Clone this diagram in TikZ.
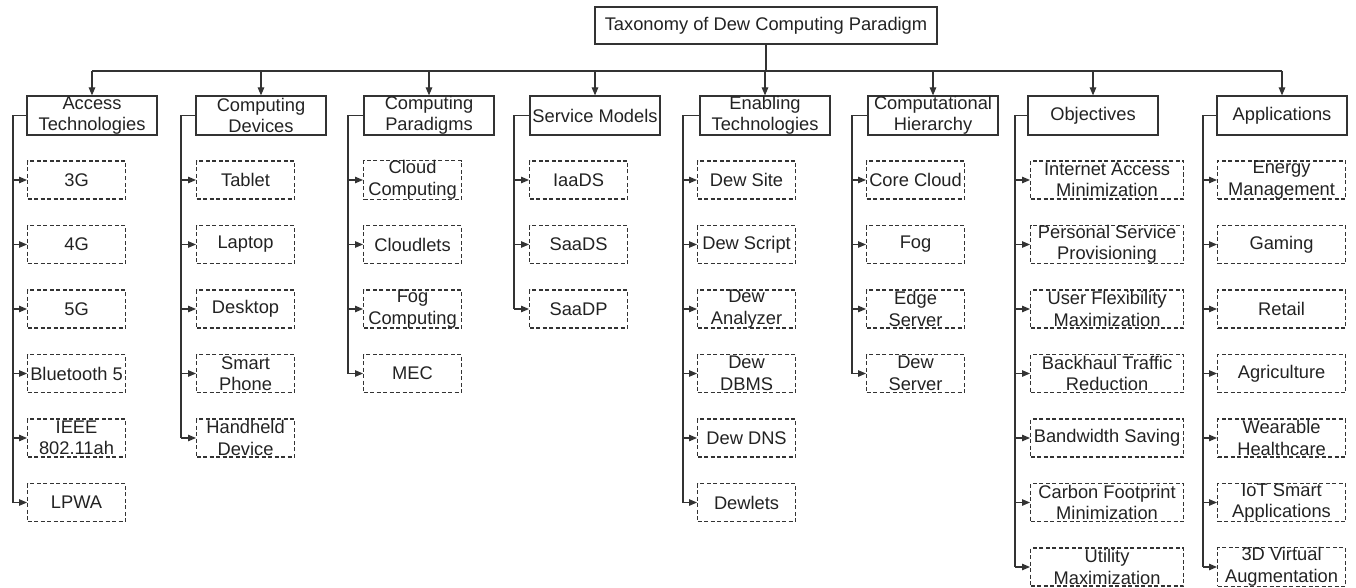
\documentclass[tikz,border=0pt]{standalone}
\usepackage{fontspec}
\setmainfont{Liberation Sans}
\usetikzlibrary{arrows.meta}
\definecolor{ln}{HTML}{333333}
\definecolor{tx}{HTML}{222222}
\begin{document}
\begin{tikzpicture}[x=1pt,y=-1pt,
  every node/.style={font=\fontsize{18.3}{21.5}\selectfont, text=tx, inner sep=0pt, align=center},
  rootbox/.style={draw=ln, line width=1.2pt, minimum width=342pt, minimum height=37pt},
  parentbox/.style={draw=ln, line width=1.2pt, minimum width=130pt, minimum height=39pt},
  childbox/.style={draw=ln, line width=1.1pt, dash pattern=on 4pt off 2.5pt, minimum height=38pt},
  link/.style={draw=ln, line width=1.2pt},
  arr/.style={link, -{Triangle[length=8pt,width=6.5pt]}}]
\useasboundingbox (0,0) rectangle (1356,588);
\node[rootbox] (root) at (766,25.5) {Taxonomy of Dew Computing Paradigm};
\coordinate (bar) at (0,71);
\foreach \col/\pc/\cl/\cw/\tx/\n/\ptext/\kids in {
  1/92/27/98/13/6/{Access\\Technologies}/{3G,4G,5G,Bluetooth 5,{IEEE\\802.11ah},LPWA},
  2/261/196/98/181/5/{Computing\\Devices}/{Tablet,Laptop,Desktop,{Smart\\Phone},{Handheld\\Device}},
  3/429/363/98/348/4/{Computing\\Paradigms}/{{Cloud\\Computing},Cloudlets,{Fog\\Computing},MEC},
  4/595/529/98/514/3/{Service Models}/{IaaDS,SaaDS,SaaDP},
  5/765/697/98/683/6/{Enabling\\Technologies}/{Dew Site,Dew Script,{Dew\\Analyzer},{Dew\\DBMS},Dew DNS,Dewlets},
  6/933/866/98/852/4/{Computational\\Hierarchy}/{Core Cloud,Fog,{Edge\\Server},{Dew\\Server}},
  7/1093/1030/153/1015/7/{Objectives}/{{Internet Access\\Minimization},{Personal Service\\Provisioning},{User Flexibility\\Maximization},{Backhaul Traffic\\Reduction},Bandwidth Saving,{Carbon Footprint\\Minimization},{Utility\\Maximization}},
  8/1282/1217/128/1203/7/{Applications}/{{Energy\\Management},Gaming,Retail,Agriculture,{Wearable\\Healthcare},{IoT Smart\\Applications},{3D Virtual\\Augmentation}}}
{
  \node[parentbox] (p\col) at (\pc,115.5) {\ptext};
  \foreach \k [count=\i] in \kids {
    \pgfmathsetmacro\cy{180+64.5*(\i-1)}
    \node[childbox, minimum width=\cw pt, anchor=west] (c\col-\i) at (\cl,\cy) {\k};
    \draw[arr] (\tx,\cy) -- (c\col-\i.west);
  }
  \pgfmathsetmacro\ly{180+64.5*(\n-1)}
  \draw[link] (p\col.west) -| (\tx,\ly);
  \draw[arr] (p\col.north |- bar) -- (p\col.north);
}
\draw[link] (root.south) -- (root.south |- bar);
\draw[link] (p1.north |- bar) -- (p8.north |- bar);
\end{tikzpicture}
\end{document}
